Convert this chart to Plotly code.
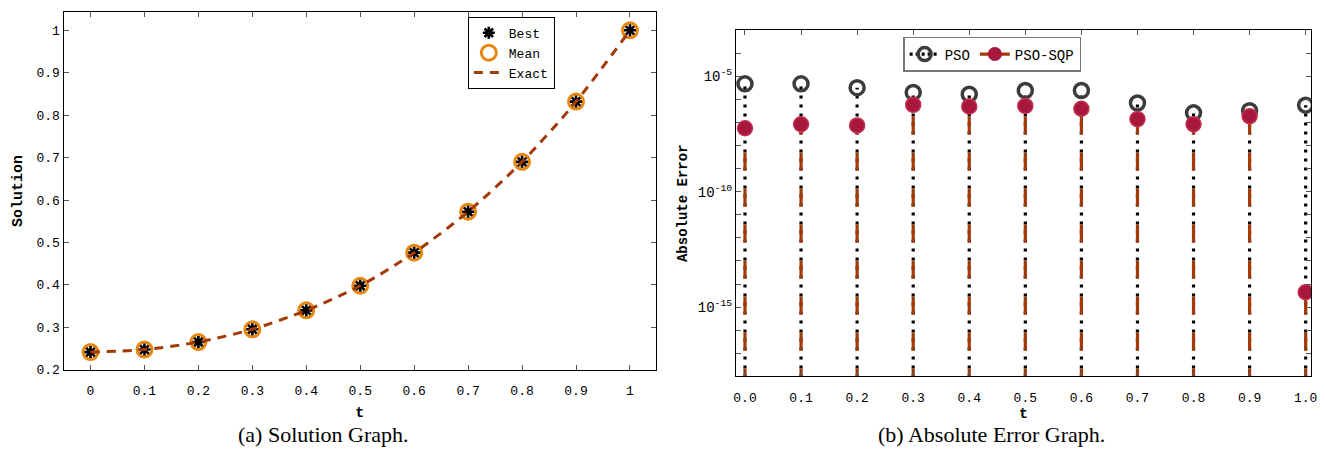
import plotly.graph_objects as go

# ---------------- data ----------------
t = [0.0, 0.1, 0.2, 0.3, 0.4, 0.5, 0.6, 0.7, 0.8, 0.9, 1.0]
best = [0.2416, 0.2476, 0.2654, 0.2954, 0.3400, 0.3980, 0.4760, 0.5725, 0.6900, 0.8320, 1.0000]
mean = [0.2416, 0.2476, 0.2654, 0.2954, 0.3400, 0.3980, 0.4760, 0.5725, 0.6900, 0.8320, 1.0000]
exact = [0.2416, 0.2476, 0.2654, 0.2954, 0.3400, 0.3980, 0.4760, 0.5725, 0.6900, 0.8320, 1.0000]

pso_err = [4.7e-6, 4.7e-6, 3.2e-6, 2.0e-6, 1.66e-6, 2.4e-6, 2.4e-6, 6.9e-7, 2.6e-7, 3.2e-7, 5.6e-7]
sqp_err = [5.6e-8, 8.3e-8, 7.4e-8, 5.8e-7, 4.9e-7, 5.2e-7, 3.9e-7, 1.38e-7, 8.3e-8, 1.86e-7, 4.4e-15]

left_xticks = [0, 0.1, 0.2, 0.3, 0.4, 0.5, 0.6, 0.7, 0.8, 0.9, 1.0]
left_xtext = ["0", "0.1", "0.2", "0.3", "0.4", "0.5", "0.6", "0.7", "0.8", "0.9", "1"]
left_yticks = [0.2, 0.3, 0.4, 0.5, 0.6, 0.7, 0.8, 0.9, 1.0]
left_ytext = ["0.2", "0.3", "0.4", "0.5", "0.6", "0.7", "0.8", "0.9", "1"]
right_xtext = ["0.0", "0.1", "0.2", "0.3", "0.4", "0.5", "0.6", "0.7", "0.8", "0.9", "1.0"]
right_major = [1e-5, 1e-10, 1e-15]
right_major_text = ["10<sup>-5</sup>", "10<sup>-10</sup>", "10<sup>-15</sup>"]
right_minor = [1e-18, 1e-17, 1e-16, 1e-14, 1e-13, 1e-12, 1e-11, 1e-9, 1e-8, 1e-7, 1e-6, 1e-4, 1e-3]

# ---------------- styles ----------------
MONO = "Liberation Mono, Courier New, monospace"
SERIF = "Liberation Serif, Times New Roman, serif"
STEM_BASE = 1e-20
ORANGE = "#E8870E"
BROWN = "#A33A06"
CRIMSON = "#A8173C"
DGRAY = "#3C3C3C"


def stems(xv, yv):
    xs, ys = [], []
    for a, b in zip(xv, yv):
        xs += [a, a, None]
        ys += [STEM_BASE, b, None]
    return xs, ys


fig = go.Figure()

# ---- left: solution graph ----
fig.add_trace(go.Scatter(x=t, y=mean, mode="markers", name="Mean", xaxis="x", yaxis="y",
                         marker=dict(symbol="circle-open", size=15, color=ORANGE, line=dict(width=3, color=ORANGE)),
                         legend="legend", legendrank=2))
fig.add_trace(go.Scatter(x=t, y=best, mode="markers", name="Best", xaxis="x", yaxis="y",
                         marker=dict(symbol="asterisk-open", size=10, color="black", line=dict(width=2.6, color="black")),
                         legend="legend", legendrank=1))
fig.add_trace(go.Scatter(x=t, y=exact, mode="lines", name="Exact", xaxis="x", yaxis="y",
                         line=dict(color=BROWN, width=3, dash="9px,7px", shape="spline", smoothing=0.8),
                         legend="legend", legendrank=3))

# ---- right: absolute error graph ----
sx, sy = stems(t, pso_err)
fig.add_trace(go.Scatter(x=sx, y=sy, mode="lines", xaxis="x2", yaxis="y2", showlegend=False,
                         line=dict(color="black", width=3.2, dash="3px,6px"), hoverinfo="skip"))
sx2, sy2 = stems(t, sqp_err)
fig.add_trace(go.Scatter(x=sx2, y=sy2, mode="lines", xaxis="x2", yaxis="y2", showlegend=False,
                         line=dict(color=BROWN, width=3.2, dash="18px,18px"), hoverinfo="skip"))
fig.add_trace(go.Scatter(x=t, y=pso_err, mode="markers", xaxis="x2", yaxis="y2", showlegend=False,
                         marker=dict(symbol="circle-open", size=14, color=DGRAY, line=dict(width=3.5, color=DGRAY))))
fig.add_trace(go.Scatter(x=t, y=sqp_err, mode="markers", xaxis="x2", yaxis="y2", showlegend=False,
                         marker=dict(symbol="circle", size=15, color=CRIMSON, line=dict(width=1.5, color="#C43050"))))
# legend-only entries
fig.add_trace(go.Scatter(x=[None], y=[None], mode="lines+markers", name="PSO", xaxis="x2", yaxis="y2",
                         line=dict(color="black", width=3.2, dash="3px,3px"),
                         marker=dict(symbol="circle-open", size=13, color=DGRAY, line=dict(width=3.5, color=DGRAY)),
                         legend="legend2"))
fig.add_trace(go.Scatter(x=[None], y=[None], mode="lines+markers", name="PSO-SQP", xaxis="x2", yaxis="y2",
                         line=dict(color=BROWN, width=3.2),
                         marker=dict(symbol="circle", size=14, color=CRIMSON),
                         legend="legend2"))

axis_common = dict(showline=True, linecolor="black", linewidth=1, mirror="ticks", ticks="inside",
                   ticklen=5, tickcolor="#555555", tickwidth=1, showgrid=False, zeroline=False)
TICKFONT = dict(family=MONO, size=13, color="black")

fig.update_layout(
    width=1325, height=452,
    margin=dict(l=0, r=0, t=0, b=0),
    paper_bgcolor="white", plot_bgcolor="white",
    xaxis=dict(domain=[0.0460, 0.4961], range=[-0.05, 1.048], anchor="y",
               tickvals=left_xticks, ticktext=left_xtext, tickfont=TICKFONT, ticklabelstandoff=9,
               title=dict(text="<b>t</b>", font=dict(family=MONO, size=15, color="black"), standoff=8),
               **axis_common),
    yaxis=dict(domain=[0.1653, 0.9728], range=[0.2, 1.043], anchor="x",
               tickvals=left_yticks, ticktext=left_ytext, tickfont=TICKFONT,
               title=dict(text="<b>Solution</b>", font=dict(family=MONO, size=15, color="black"), standoff=10),
               **axis_common),
    xaxis2=dict(domain=[0.5570, 0.9940], range=[-0.016, 1.0097], anchor="y2",
                tickvals=t, ticktext=right_xtext, tickfont=TICKFONT, ticklabelstandoff=9,
                title=dict(text="<b>t</b>", font=dict(family=MONO, size=15, color="black"), standoff=1),
                **axis_common),
    yaxis2=dict(domain=[0.1504, 0.9321], type="log", range=[-18, -3], anchor="x2",
                tickvals=right_major, ticktext=right_major_text,
                tickfont=dict(family=MONO, size=14, color="black"),
                minor=dict(tickvals=right_minor, ticks="inside", ticklen=5, tickcolor="#555555", tickwidth=1),
                title=dict(text="<b>Absolute Error</b>", font=dict(family=MONO, size=14, color="black"), standoff=6),
                **axis_common),
    legend=dict(x=0.3532, y=0.962, xanchor="left", yanchor="top", orientation="v",
                bordercolor="black", borderwidth=1, bgcolor="white",
                font=dict(family=MONO, size=13, color="black"), tracegroupgap=0, itemwidth=30),
    legend2=dict(x=0.684, y=0.9166, xanchor="left", yanchor="top", orientation="h",
                 bordercolor="#777777", borderwidth=1.5, bgcolor="white",
                 font=dict(family=MONO, size=14, color="black"), itemwidth=30),
    annotations=[
        dict(text="(a) Solution Graph.", x=322 / 1325, y=1 - 443 / 452, xref="paper", yref="paper",
             showarrow=False, font=dict(family=SERIF, size=22, color="black"), xanchor="center", yanchor="middle"),
        dict(text="(b) Absolute Error Graph.", x=995 / 1325, y=1 - 443 / 452, xref="paper", yref="paper",
             showarrow=False, font=dict(family=SERIF, size=22, color="black"), xanchor="center", yanchor="middle"),
    ],
)

fig.write_html("out.html")
